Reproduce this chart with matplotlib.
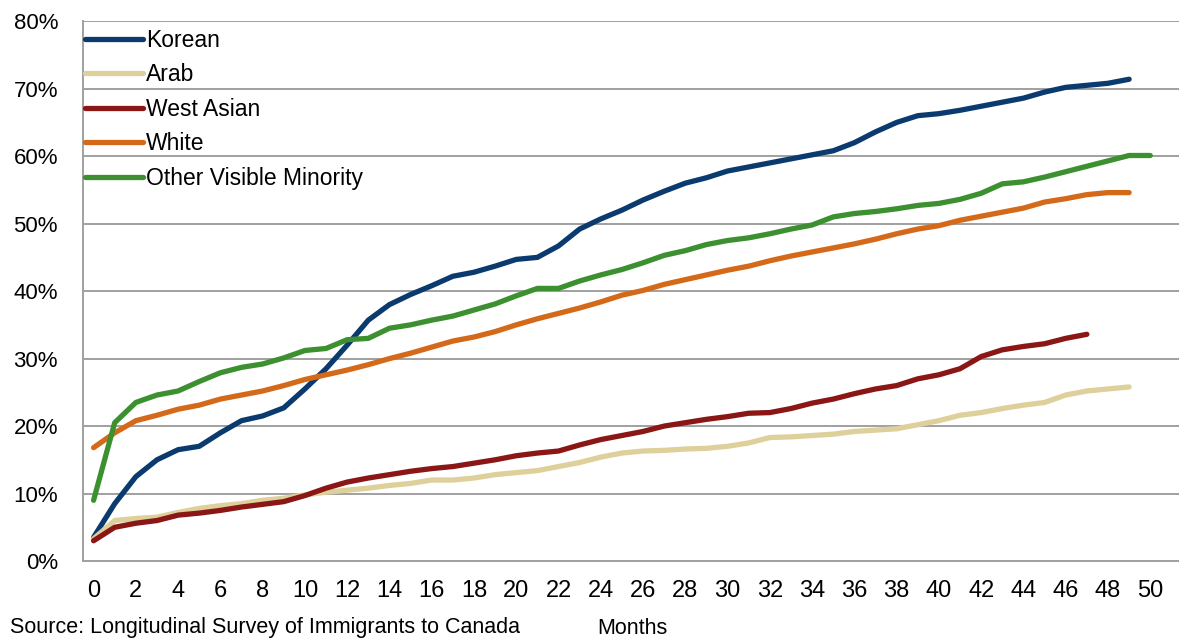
import numpy as np
import matplotlib
matplotlib.use("Agg")
import matplotlib.pyplot as plt
from matplotlib.ticker import FuncFormatter

plt.rcParams["font.family"] = ["Liberation Sans", "DejaVu Sans"]

# share of immigrants (%) by months since arrival
months = list(range(51))

korean = [3.5, 8.5, 12.5, 15.0, 16.5, 17.0, 19.0, 20.8, 21.5, 22.7,
          25.5, 28.5, 32.0, 35.7, 38.0, 39.5, 40.8, 42.2, 42.8, 43.7,
          44.7, 45.0, 46.7, 49.2, 50.7, 52.0, 53.5, 54.8, 56.0, 56.8,
          57.8, 58.4, 59.0, 59.6, 60.2, 60.8, 62.0, 63.6, 65.0, 66.0,
          66.3, 66.8, 67.4, 68.0, 68.6, 69.5, 70.2, 70.5, 70.8, 71.4]

arab = [3.3, 6.0, 6.3, 6.5, 7.2, 7.8, 8.2, 8.5, 9.0, 9.3,
        9.8, 10.2, 10.5, 10.8, 11.2, 11.5, 12.0, 12.0, 12.3, 12.8,
        13.1, 13.4, 14.0, 14.6, 15.4, 16.0, 16.3, 16.4, 16.6, 16.7,
        17.0, 17.5, 18.3, 18.4, 18.6, 18.8, 19.2, 19.4, 19.6, 20.2,
        20.8, 21.6, 22.0, 22.6, 23.1, 23.5, 24.6, 25.2, 25.5, 25.8]

west_asian = [3.0, 5.0, 5.6, 6.0, 6.8, 7.1, 7.5, 8.0, 8.4, 8.8,
              9.7, 10.8, 11.7, 12.3, 12.8, 13.3, 13.7, 14.0, 14.5, 15.0,
              15.6, 16.0, 16.3, 17.2, 18.0, 18.6, 19.2, 20.0, 20.5, 21.0,
              21.4, 21.9, 22.0, 22.6, 23.4, 24.0, 24.8, 25.5, 26.0, 27.0,
              27.6, 28.5, 30.3, 31.3, 31.8, 32.2, 33.0, 33.6]

white = [16.8, 19.0, 20.8, 21.6, 22.5, 23.1, 24.0, 24.6, 25.2, 26.0,
         26.9, 27.6, 28.3, 29.1, 30.0, 30.8, 31.7, 32.6, 33.2, 34.0,
         35.0, 35.9, 36.7, 37.5, 38.4, 39.4, 40.1, 41.0, 41.7, 42.4,
         43.1, 43.7, 44.5, 45.2, 45.8, 46.4, 47.0, 47.7, 48.5, 49.2,
         49.7, 50.5, 51.1, 51.7, 52.3, 53.2, 53.7, 54.3, 54.6, 54.6]

other_vm = [9.0, 20.5, 23.5, 24.6, 25.2, 26.6, 27.9, 28.7, 29.2, 30.1,
            31.2, 31.5, 32.8, 33.0, 34.5, 35.0, 35.7, 36.3, 37.2, 38.1,
            39.3, 40.4, 40.4, 41.5, 42.4, 43.2, 44.2, 45.3, 46.0, 46.9,
            47.5, 47.9, 48.5, 49.2, 49.8, 51.0, 51.5, 51.8, 52.2, 52.7,
            53.0, 53.6, 54.5, 55.9, 56.2, 56.9, 57.7, 58.5, 59.3, 60.1, 60.1]

series = [
    ("Korean", korean, "#0b3a6e"),
    ("Arab", arab, "#ddd09b"),
    ("West Asian", west_asian, "#8a1616"),
    ("White", white, "#d4691a"),
    ("Other Visible Minority", other_vm, "#3c9030"),
]

fig = plt.figure(figsize=(11.79, 6.43), dpi=100)
ax = fig.add_axes([0.0704, 0.1275, 0.9296, 0.8395])

for name, vals, col in series:
    ax.plot(months[:len(vals)], vals, color=col, lw=3.8, label=name,
            solid_capstyle="round", solid_joinstyle="round")

ax.set_xlim(-0.5, 51.36)
ax.set_ylim(0, 80)
ax.set_xticks(range(0, 51, 2))
ax.set_yticks(range(0, 81, 10))
ax.yaxis.set_major_formatter(FuncFormatter(lambda v, p: f"{v:.0f}%"))
ax.tick_params(axis="both", length=0)
ax.tick_params(axis="y", labelsize=16, pad=18)
ax.tick_params(axis="x", labelsize=17, pad=14)
ax.grid(axis="y", color="#a0a0a0", lw=1.4)
ax.set_axisbelow(True)
for s in ["top", "right"]:
    ax.spines[s].set_visible(False)
for s in ["left", "bottom"]:
    ax.spines[s].set_color("#a0a0a0")
    ax.spines[s].set_linewidth(1.4)

ax.legend(loc="upper left", bbox_to_anchor=(0.0, 0.99), frameon=False,
          fontsize=16.5, handlelength=2.5, handletextpad=0.15,
          labelspacing=0.5, borderaxespad=0.1, borderpad=0.0)

fig.text(10 / 1179, 1 - 628 / 643, "Source: Longitudinal Survey of Immigrants to Canada",
         fontsize=15.5, va="center", ha="left")
fig.text(632 / 1179, 1 - 628 / 643, "Months", fontsize=15.5, va="center", ha="center")

fig.savefig("out.png", dpi=100)
